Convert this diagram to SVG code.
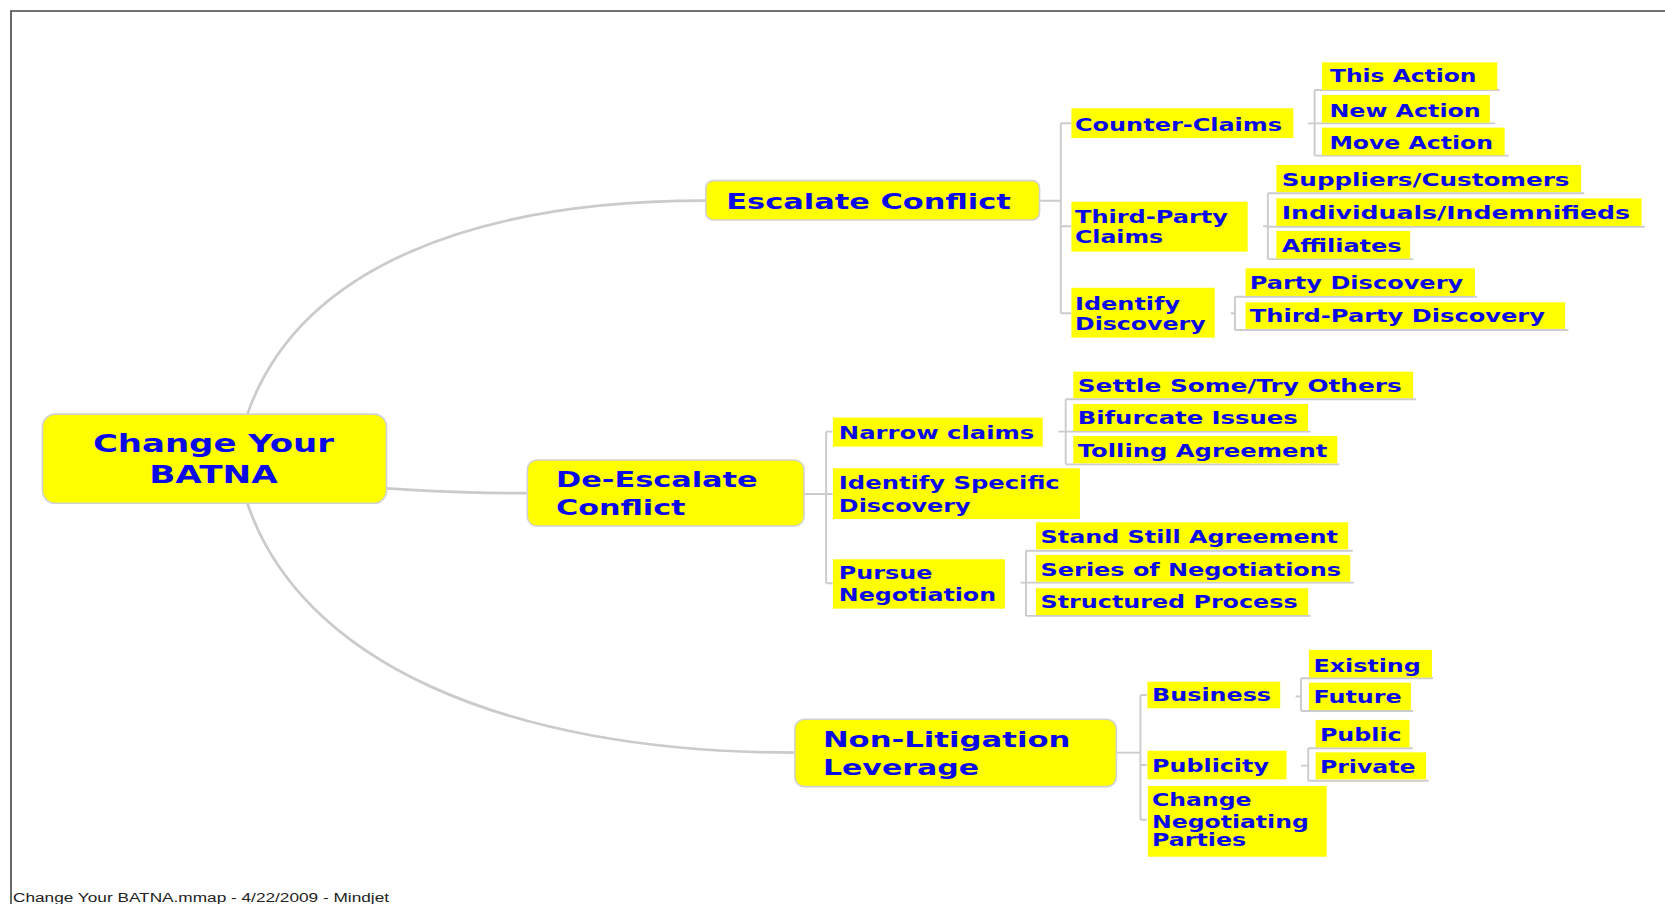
<svg xmlns="http://www.w3.org/2000/svg" width="1665" height="904" viewBox="0 0 1665 904">
<style>
.box{fill:#ffff00;stroke:#d2d2d2;stroke-width:1.5}
.lf{fill:#ffff00}
.t{font-family:"DejaVu Sans",Verdana,sans-serif;font-weight:bold;fill:#0a0ae6}
.s16{font-size:16px}
.s20{font-size:20px}
.s23{font-size:23px}
.cv{fill:none;stroke:#cbcbcb;stroke-width:2.6}
.br{fill:none;stroke:#cccccc;stroke-width:1.8}
.frame{fill:none;stroke:#444444;stroke-width:1.6}
.foot{font-family:"Liberation Sans",Arial,sans-serif;font-size:12px;fill:#222222}
</style>
<rect x="0" y="0" width="1665" height="904" fill="#ffffff"/>
<path class="frame" d="M11,904 V11 H1665"/>
<text class="foot" x="13" y="902" textLength="376" lengthAdjust="spacingAndGlyphs">Change Your BATNA.mmap - 4/22/2009 - Mindjet</text>
<g transform="scale(1.06186)">
<g id="connectors">
<path class="cv" d="M233,390 C282,250 450,189 664,189"/>
<path class="cv" d="M364,460 C420,463 440,464.5 496,464.5"/>
<path class="cv" d="M233,474 C282,620 470,708.8 749,708.8"/>
<path class="br" d="M978,189 H999 M999,116 V295 M999,116 H1009 M999,213 H1009 M999,295 H1009"/>
<path class="br" d="M1232,116.2 H1238 M1238,84.8 V146.6 M1238,84.8 H1412 M1238,116.2 H1408 M1238,146.6 H1421"/>
<path class="br" d="M1189.6,213 H1194 M1194,182 V244 M1194,182 H1492 M1194,213.5 H1549 M1194,244 H1331"/>
<path class="br" d="M1159,295 H1163 M1163,279.4 V310.8 M1163,279.4 H1391 M1163,310.8 H1477"/>
<path class="br" d="M757,465.2 H778 M778,406.5 V549.3 M778,406.5 H784 M778,465.2 H784 M778,549.3 H784"/>
<path class="br" d="M996.7,406.5 H1003.6 M1003.6,376 V437.3 M1003.6,376 H1333.5 M1003.6,406.5 H1234.3 M1003.6,437.3 H1261.3"/>
<path class="br" d="M961.2,548.7 H966.2 M966.2,518.6 V580 M966.2,518.6 H1273.9 M966.2,548.7 H1275 M966.2,580 H1234.3"/>
<path class="br" d="M1051,708.8 H1074 M1074,654.5 V772 M1074,654.5 H1080 M1074,720.4 H1080 M1074,772 H1080"/>
<path class="br" d="M1220.2,656 H1225.2 M1225.2,638.8 V669.6 M1225.2,638.8 H1349.6 M1225.2,669.6 H1330.7"/>
<path class="br" d="M1225.2,721 H1232 M1232,704.7 V735.2 M1232,704.7 H1330.4 M1232,735.2 H1345.5"/>
</g>
<g id="root">
<rect class="box" x="40" y="390" width="324" height="84" rx="12"/>
<text class="t s23" x="201" y="426" text-anchor="middle" textLength="227" lengthAdjust="spacingAndGlyphs">Change Your</text>
<text class="t s23" x="201" y="455" text-anchor="middle" textLength="121" lengthAdjust="spacingAndGlyphs">BATNA</text>
</g>
<g id="escalate">
<rect class="box" x="664.7" y="170.1" width="314.3" height="37.1" rx="7"/>
<text class="t s20" x="684" y="197" textLength="268" lengthAdjust="spacingAndGlyphs">Escalate Conflict</text>
</g>
<g id="deescalate">
<rect class="box" x="496.6" y="433.2" width="260.6" height="62.2" rx="9"/>
<text class="t s20" x="523.6" y="459" textLength="190" lengthAdjust="spacingAndGlyphs">De-Escalate</text>
<text class="t s20" x="523.6" y="485" textLength="122" lengthAdjust="spacingAndGlyphs">Conflict</text>
</g>
<g id="nonlit">
<rect class="box" x="748.5" y="677.4" width="302.8" height="63.4" rx="9"/>
<text class="t s20" x="775" y="703.2" textLength="233" lengthAdjust="spacingAndGlyphs">Non-Litigation</text>
<text class="t s20" x="775" y="729.9" textLength="147" lengthAdjust="spacingAndGlyphs">Leverage</text>
</g>
<g id="counterclaims">
<rect class="lf" x="1009" y="102" width="209" height="28"/>
<text class="t s16" x="1012.4" y="123.4" textLength="195" lengthAdjust="spacingAndGlyphs">Counter-Claims</text>
</g>
<g id="thirdparty">
<rect class="lf" x="1009" y="190" width="166" height="47"/>
<text class="t s16" x="1012.4" y="210.3" textLength="144" lengthAdjust="spacingAndGlyphs">Third-Party</text>
<text class="t s16" x="1012.4" y="229" textLength="83" lengthAdjust="spacingAndGlyphs">Claims</text>
</g>
<g id="identifydiscovery">
<rect class="lf" x="1009" y="271" width="135" height="47"/>
<text class="t s16" x="1012.4" y="292" textLength="99" lengthAdjust="spacingAndGlyphs">Identify</text>
<text class="t s16" x="1012.4" y="310.8" textLength="123" lengthAdjust="spacingAndGlyphs">Discovery</text>
</g>
<g id="thisaction">
<rect class="lf" x="1245" y="58.7" width="165" height="26"/>
<text class="t s16" x="1252.5" y="77.5" textLength="138" lengthAdjust="spacingAndGlyphs">This Action</text>
</g>
<g id="newaction">
<rect class="lf" x="1245" y="89.5" width="158" height="26"/>
<text class="t s16" x="1252" y="109.9" textLength="142.5" lengthAdjust="spacingAndGlyphs">New Action</text>
</g>
<g id="moveaction">
<rect class="lf" x="1245" y="120.2" width="172" height="26"/>
<text class="t s16" x="1252" y="140.3" textLength="154" lengthAdjust="spacingAndGlyphs">Move Action</text>
</g>
<g id="suppliers">
<rect class="lf" x="1202" y="155.4" width="287" height="25.5"/>
<text class="t s16" x="1207" y="175" textLength="271" lengthAdjust="spacingAndGlyphs">Suppliers/Customers</text>
</g>
<g id="individuals">
<rect class="lf" x="1202" y="186.8" width="344" height="26"/>
<text class="t s16" x="1207" y="206.3" textLength="328" lengthAdjust="spacingAndGlyphs">Individuals/Indemnifieds</text>
</g>
<g id="affiliates">
<rect class="lf" x="1202" y="217.5" width="126" height="26"/>
<text class="t s16" x="1207" y="237" textLength="113" lengthAdjust="spacingAndGlyphs">Affiliates</text>
</g>
<g id="partydiscovery">
<rect class="lf" x="1173" y="252.7" width="216" height="26"/>
<text class="t s16" x="1177" y="272" textLength="201" lengthAdjust="spacingAndGlyphs">Party Discovery</text>
</g>
<g id="thirdpartydiscovery">
<rect class="lf" x="1173" y="284.7" width="301" height="25"/>
<text class="t s16" x="1177" y="303.5" textLength="278" lengthAdjust="spacingAndGlyphs">Third-Party Discovery</text>
</g>
<g id="narrowclaims">
<rect class="lf" x="784.4" y="393.3" width="197.6" height="27.3"/>
<text class="t s16" x="790" y="413.7" textLength="184" lengthAdjust="spacingAndGlyphs">Narrow claims</text>
</g>
<g id="identifyspecific">
<rect class="lf" x="784.4" y="441" width="232.6" height="47.8"/>
<text class="t s16" x="790" y="460.8" textLength="208" lengthAdjust="spacingAndGlyphs">Identify Specific</text>
<text class="t s16" x="790" y="481.9" textLength="124" lengthAdjust="spacingAndGlyphs">Discovery</text>
</g>
<g id="pursue">
<rect class="lf" x="784.4" y="526.7" width="162" height="46.5"/>
<text class="t s16" x="790" y="545.6" textLength="88" lengthAdjust="spacingAndGlyphs">Pursue</text>
<text class="t s16" x="790" y="566" textLength="148" lengthAdjust="spacingAndGlyphs">Negotiation</text>
</g>
<g id="settle">
<rect class="lf" x="1010.8" y="350" width="320" height="25"/>
<text class="t s16" x="1015" y="368.8" textLength="305" lengthAdjust="spacingAndGlyphs">Settle Some/Try Others</text>
</g>
<g id="bifurcate">
<rect class="lf" x="1010.8" y="380.5" width="221" height="25.4"/>
<text class="t s16" x="1015" y="399.6" textLength="207" lengthAdjust="spacingAndGlyphs">Bifurcate Issues</text>
</g>
<g id="tolling">
<rect class="lf" x="1010.8" y="410.6" width="248.6" height="25.7"/>
<text class="t s16" x="1015" y="430.7" textLength="235" lengthAdjust="spacingAndGlyphs">Tolling Agreement</text>
</g>
<g id="standstill">
<rect class="lf" x="975.6" y="491.9" width="294" height="25.4"/>
<text class="t s16" x="980" y="511" textLength="280" lengthAdjust="spacingAndGlyphs">Stand Still Agreement</text>
</g>
<g id="series">
<rect class="lf" x="975.6" y="522.7" width="296" height="25.1"/>
<text class="t s16" x="980" y="542.5" textLength="283" lengthAdjust="spacingAndGlyphs">Series of Negotiations</text>
</g>
<g id="structured">
<rect class="lf" x="975.6" y="554" width="256.4" height="25.2"/>
<text class="t s16" x="980" y="572.9" textLength="242" lengthAdjust="spacingAndGlyphs">Structured Process</text>
</g>
<g id="business">
<rect class="lf" x="1080.6" y="642" width="125" height="25"/>
<text class="t s16" x="1085" y="659.8" textLength="112" lengthAdjust="spacingAndGlyphs">Business</text>
</g>
<g id="publicity">
<rect class="lf" x="1080.6" y="707" width="131" height="27"/>
<text class="t s16" x="1085" y="726.7" textLength="110" lengthAdjust="spacingAndGlyphs">Publicity</text>
</g>
<g id="changeparties">
<rect class="lf" x="1081" y="740.2" width="168.4" height="66.6"/>
<text class="t s16" x="1085" y="759" textLength="93.6" lengthAdjust="spacingAndGlyphs">Change</text>
<text class="t s16" x="1085" y="779.5" textLength="147.5" lengthAdjust="spacingAndGlyphs">Negotiating</text>
<text class="t s16" x="1085" y="797" textLength="88.5" lengthAdjust="spacingAndGlyphs">Parties</text>
</g>
<g id="existing">
<rect class="lf" x="1232.7" y="612" width="115.8" height="26"/>
<text class="t s16" x="1237" y="632.6" textLength="101" lengthAdjust="spacingAndGlyphs">Existing</text>
</g>
<g id="future">
<rect class="lf" x="1232.7" y="642.9" width="96" height="25.7"/>
<text class="t s16" x="1237" y="662.4" textLength="83" lengthAdjust="spacingAndGlyphs">Future</text>
</g>
<g id="public">
<rect class="lf" x="1239" y="678" width="88.4" height="25.8"/>
<text class="t s16" x="1243" y="697.8" textLength="77" lengthAdjust="spacingAndGlyphs">Public</text>
</g>
<g id="private">
<rect class="lf" x="1239" y="708.5" width="104" height="25.4"/>
<text class="t s16" x="1243" y="728.3" textLength="90" lengthAdjust="spacingAndGlyphs">Private</text>
</g>
</g>
</svg>
